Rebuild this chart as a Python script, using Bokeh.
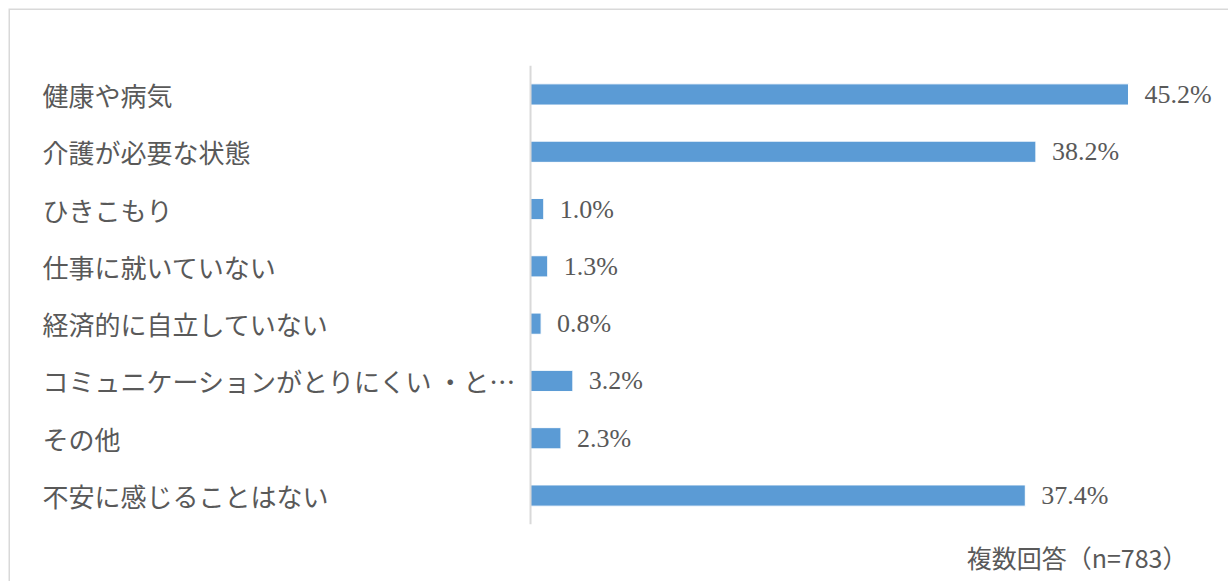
from bokeh.plotting import figure
from bokeh.models import Range1d, FactorRange, ColumnDataSource
from bokeh.core.properties import value
from bokeh.embed import file_html
from bokeh.resources import INLINE

categories = [
    "健康や病気",
    "介護が必要な状態",
    "ひきこもり",
    "仕事に就いていない",
    "経済的に自立していない",
    "コミュニケーションがとりにくい ・と…",
    "その他",
    "不安に感じることはない",
]
values = [45.2, 38.2, 1.0, 1.3, 0.8, 3.2, 2.3, 37.4]
value_labels = [f"{v:.1f}%" for v in values]
footer = "複数回答（n=783）"

BAR = "#5B9BD5"
TXT = "#595959"
JP = "Noto Sans CJK JP"

x_range = Range1d(-39.46, 52.76)
y_range = FactorRange(factors=categories[::-1], range_padding=1,
                      range_padding_units="absolute")

p = figure(width=1228, height=581, x_range=x_range, y_range=y_range,
           output_backend="svg", toolbar_location=None,
           min_border_left=8, min_border_right=0,
           min_border_top=8, min_border_bottom=0)
p.xaxis.visible = False
p.yaxis.visible = False
p.xgrid.visible = False
p.ygrid.visible = False
p.outline_line_color = None
p.background_fill_color = "white"
p.border_fill_color = "white"

# chart-area border (only top and left edges are within the view)
p.line(x=[x_range.start, x_range.start, x_range.end],
       y=[(categories[-1], -1.5), (categories[0], 1.5), (categories[0], 1.5)],
       line_color="#d9d9d9", line_width=3)

src = ColumnDataSource(dict(cat=categories, val=values, lab=value_labels,
                            x0=[x_range.start] * len(categories)))

p.hbar(y="cat", right="val", left=0, height=0.37, source=src,
       fill_color=BAR, line_color="#ffffff", line_width=1)

# vertical axis line
p.segment(x0=[0], x1=[0], y0=[(categories[-1], -0.5)], y1=[(categories[0], 0.5)],
          line_color="#d9d9d9", line_width=2)

# category labels (left aligned)
p.text(x="x0", y="cat", text="cat", source=src, x_offset=34,
       text_align="left", text_baseline="middle",
       text_font=value(JP), text_font_size="26px", text_color=TXT)

# value labels
p.text(x="val", y="cat", text="lab", source=src, x_offset=16,
       text_align="left", text_baseline="middle",
       text_font=value("Liberation Serif"), text_font_size="26px", text_color=TXT)

# footer note
p.text(x=[x_range.end], y=[categories[-1]], text=[footer], x_offset=-41, y_offset=61,
       text_align="right", text_baseline="middle",
       text_font=value(JP), text_font_size="25px", text_color=TXT)

open("out.html", "w").write(file_html(p, INLINE))
